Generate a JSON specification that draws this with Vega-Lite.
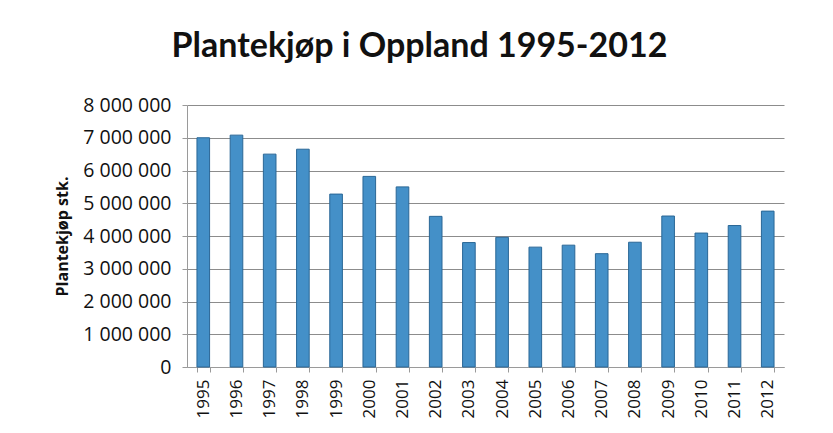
{
  "$schema": "https://vega.github.io/schema/vega-lite/v6.json",
  "width": 597,
  "height": 262,
  "autosize": {"type": "none"},
  "padding": {"left": 187, "top": 105, "right": 49, "bottom": 66},
  "background": "white",
  "title": {
    "text": "Plantekjøp i Oppland 1995-2012",
    "font": "Lato",
    "fontSize": 34,
    "fontWeight": "bold",
    "color": "#111111",
    "anchor": "middle",
    "dx": -66,
    "offset": 31
  },
  "data": {
    "values": [
      {"year": "1995", "value": 7000000},
      {"year": "1996", "value": 7080000},
      {"year": "1997", "value": 6500000},
      {"year": "1998", "value": 6650000},
      {"year": "1999", "value": 5280000},
      {"year": "2000", "value": 5820000},
      {"year": "2001", "value": 5500000},
      {"year": "2002", "value": 4600000},
      {"year": "2003", "value": 3800000},
      {"year": "2004", "value": 3960000},
      {"year": "2005", "value": 3660000},
      {"year": "2006", "value": 3720000},
      {"year": "2007", "value": 3460000},
      {"year": "2008", "value": 3810000},
      {"year": "2009", "value": 4610000},
      {"year": "2010", "value": 4090000},
      {"year": "2011", "value": 4320000},
      {"year": "2012", "value": 4760000}
    ]
  },
  "mark": {"type": "bar", "color": "#4490c8", "stroke": "#2a6796", "strokeWidth": 1},
  "encoding": {
    "x": {
      "field": "year",
      "type": "ordinal",
      "title": null,
      "scale": {"paddingInner": 0.62, "paddingOuter": 0.3},
      "axis": {
        "labelAngle": -90,
        "labelFont": "Open Sans",
        "labelFontSize": 17,
        "labelColor": "#111111",
        "labelPadding": 7,
        "domainColor": "#9a9a9a",
        "tickColor": "#9a9a9a",
        "tickSize": 5,
        "tickBand": "extent"
      }
    },
    "y": {
      "field": "value",
      "type": "quantitative",
      "title": "Plantekjøp stk.",
      "scale": {"domain": [0, 8000000]},
      "axis": {
        "values": [0, 1000000, 2000000, 3000000, 4000000, 5000000, 6000000, 7000000, 8000000],
        "labelExpr": "replace(format(datum.value, ','), /,/g, ' ')",
        "labelFont": "Open Sans",
        "labelFontSize": 19.5,
        "labelColor": "#111111",
        "labelPadding": 11,
        "tickSize": 5,
        "tickColor": "#9a9a9a",
        "domainColor": "#9a9a9a",
        "gridColor": "#8c8c8c",
        "gridWidth": 1,
        "titleFont": "Open Sans",
        "titleFontSize": 16,
        "titleFontWeight": "bold",
        "titleColor": "#111111",
        "titlePadding": 12
      }
    }
  },
  "config": {"view": {"stroke": null}}
}
